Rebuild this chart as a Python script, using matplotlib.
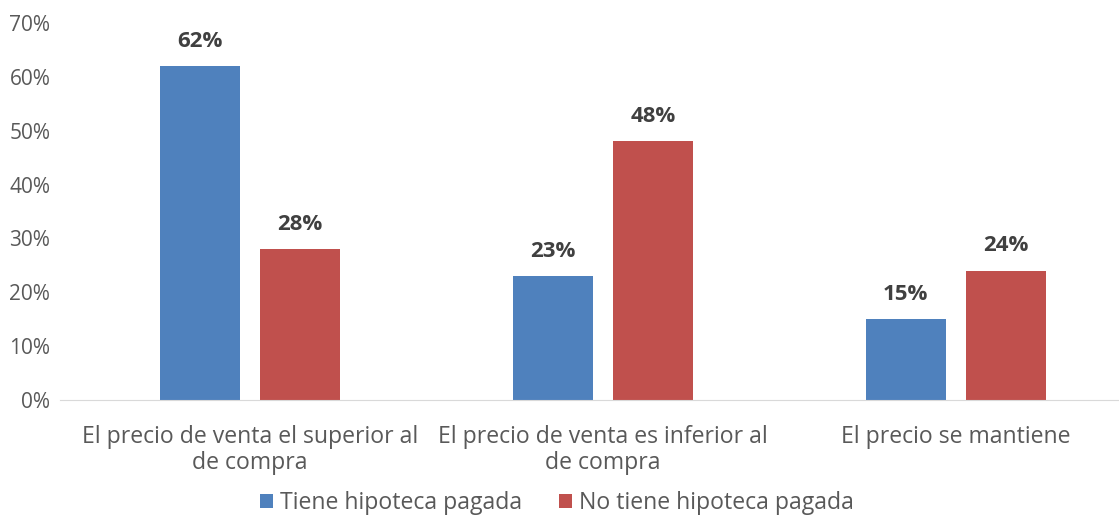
import matplotlib.pyplot as plt
import numpy as np
from matplotlib.ticker import FuncFormatter

categories = ["El precio de venta el superior al\nde compra",
              "El precio de venta es inferior al\nde compra",
              "El precio se mantiene"]
tiene = [0.62, 0.23, 0.15]
no_tiene = [0.28, 0.48, 0.24]
series_names = ["Tiene hipoteca pagada", "No tiene hipoteca pagada"]

plt.rcParams['font.family'] = ['Open Sans', 'DejaVu Sans']

W, H = 1119, 516
fig = plt.figure(figsize=(W / 100, H / 100), dpi=100)
ax = fig.add_axes([60 / W, (H - 400) / H, 1059 / W, 377 / H])

x = np.arange(len(categories))
bw = 0.227
off = 0.142
b1 = ax.bar(x - off, tiene, bw, color="#4F81BD", label=series_names[0])
b2 = ax.bar(x + off, no_tiene, bw, color="#C0504D", label=series_names[1])

# etiquetas de datos
for bars in (b1, b2):
    for r in bars:
        ax.annotate("{:.0f}%".format(r.get_height() * 100),
                    (r.get_x() + r.get_width() / 2, r.get_height()),
                    xytext=(0, 18), textcoords="offset points",
                    ha="center", va="center", fontsize=16, fontweight="bold",
                    color="#404040")

ax.set_xlim(-0.538, 2.462)
ax.set_ylim(0, 0.7)
ax.set_yticks(np.arange(0, 0.71, 0.1))
ax.yaxis.set_major_formatter(FuncFormatter(lambda v, p: "{:.0f}%".format(v * 100)))
ax.set_xticks(x)
ax.set_xticklabels(categories, fontsize=16.6, color="#595959", linespacing=1.1)
ax.tick_params(axis="y", labelsize=15, colors="#595959", length=0, pad=7)
ax.tick_params(axis="x", length=0, pad=18)
for s in ["top", "right", "left"]:
    ax.spines[s].set_visible(False)
ax.spines["bottom"].set_color("#D9D9D9")

leg = fig.legend(loc="center", bbox_to_anchor=(557 / W, (H - 503) / H), ncol=2,
                 frameon=False, fontsize=16.6, handlelength=0.55, handleheight=0.55,
                 handletextpad=0.3, columnspacing=1.6)
for t in leg.get_texts():
    t.set_color("#595959")

fig.savefig("out.png", dpi=100)
